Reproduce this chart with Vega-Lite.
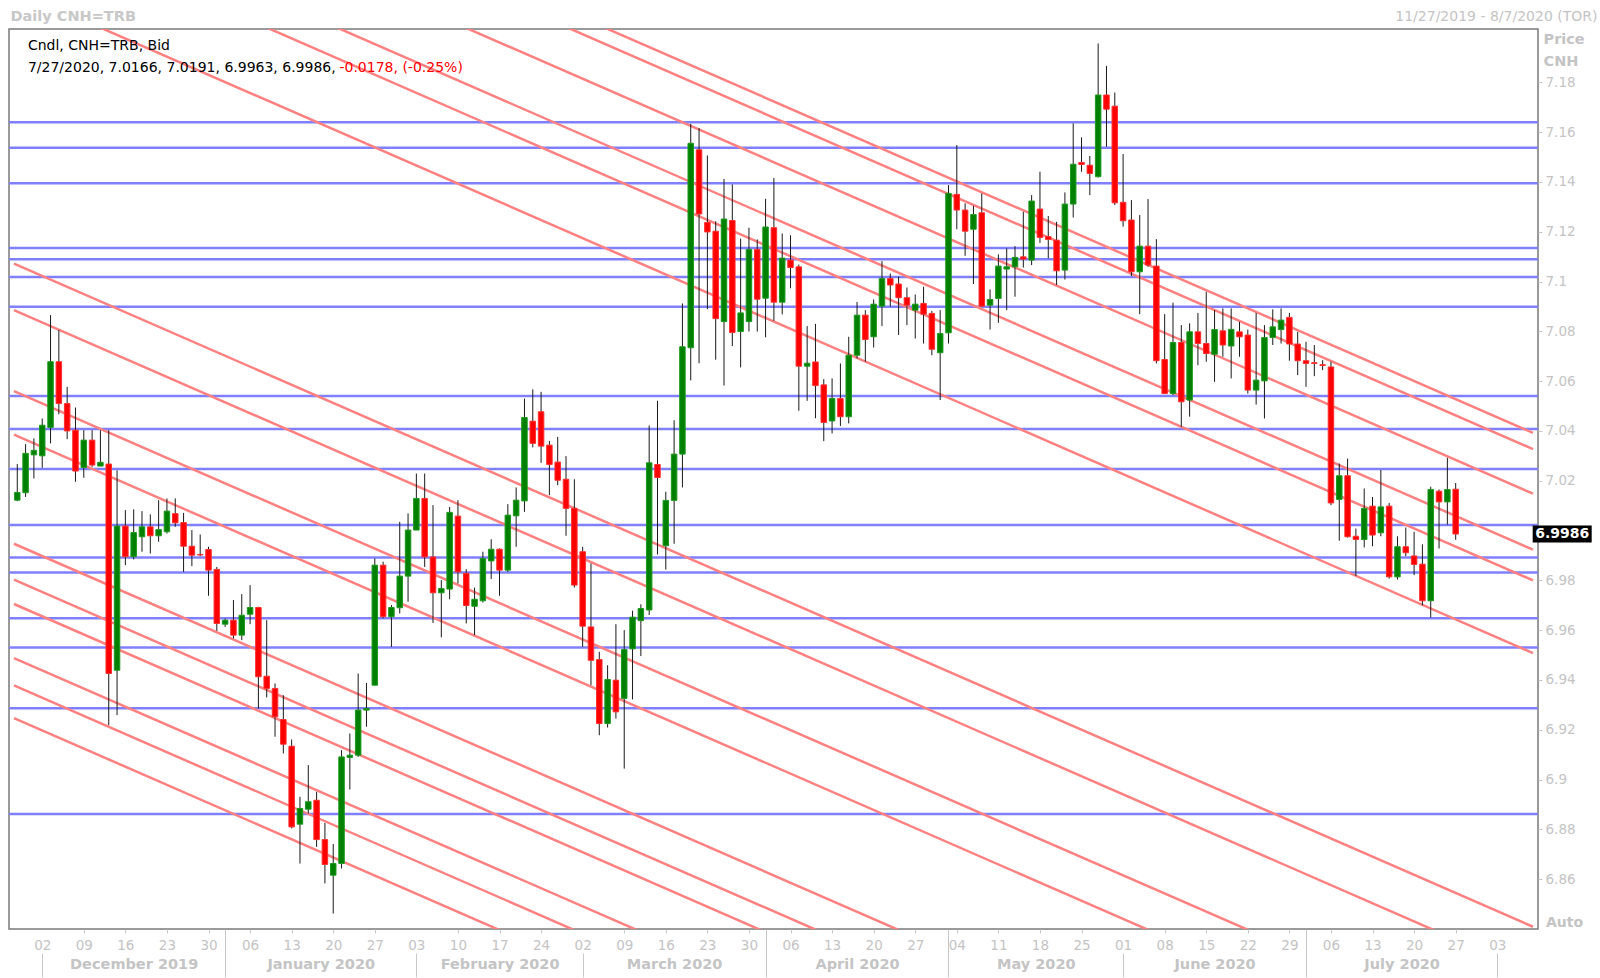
{
  "$schema": "https://vega.github.io/schema/vega-lite/v6.json",
  "width": 1529,
  "height": 900,
  "autosize": {"type": "none"},
  "padding": {"left": 9, "top": 29, "right": 62, "bottom": 49},
  "background": "white",
  "config": {
    "view": {"stroke": "#7a7a7a", "strokeWidth": 1.5},
    "font": "DejaVu Sans"
  },
  "datasets": {
    "ohlc": [
      {"i":0,"d":"2019-11-27","o":7.0122,"h":7.0267,"l":7.0118,"c":7.0153},
      {"i":1,"d":"2019-11-28","o":7.0152,"h":7.0347,"l":7.0135,"c":7.0310},
      {"i":2,"d":"2019-11-29","o":7.0304,"h":7.0370,"l":7.0209,"c":7.0322},
      {"i":3,"d":"2019-12-02","o":7.0300,"h":7.0450,"l":7.0252,"c":7.0423},
      {"i":4,"d":"2019-12-03","o":7.0414,"h":7.0865,"l":7.0350,"c":7.0678},
      {"i":5,"d":"2019-12-04","o":7.0678,"h":7.0805,"l":7.0467,"c":7.0510},
      {"i":6,"d":"2019-12-05","o":7.0510,"h":7.0577,"l":7.0367,"c":7.0400},
      {"i":7,"d":"2019-12-06","o":7.0403,"h":7.0494,"l":7.0196,"c":7.0239},
      {"i":8,"d":"2019-12-09","o":7.0253,"h":7.0403,"l":7.0212,"c":7.0363},
      {"i":9,"d":"2019-12-10","o":7.0363,"h":7.0403,"l":7.0256,"c":7.0263},
      {"i":10,"d":"2019-12-11","o":7.0259,"h":7.0403,"l":7.0259,"c":7.0274},
      {"i":11,"d":"2019-12-12","o":7.0267,"h":7.0403,"l":6.9218,"c":6.9426},
      {"i":12,"d":"2019-12-13","o":6.9439,"h":7.0242,"l":6.9259,"c":7.0018},
      {"i":13,"d":"2019-12-16","o":7.0018,"h":7.0082,"l":6.9861,"c":6.9895},
      {"i":14,"d":"2019-12-17","o":6.9895,"h":7.0085,"l":6.9884,"c":6.9992},
      {"i":15,"d":"2019-12-18","o":6.9975,"h":7.0078,"l":6.9915,"c":7.0015},
      {"i":16,"d":"2019-12-19","o":7.0015,"h":7.0065,"l":6.9908,"c":6.9979},
      {"i":17,"d":"2019-12-20","o":6.9979,"h":7.0122,"l":6.9955,"c":7.0004},
      {"i":18,"d":"2019-12-23","o":6.9995,"h":7.0129,"l":6.9988,"c":7.0078},
      {"i":19,"d":"2019-12-24","o":7.0068,"h":7.0129,"l":7.0015,"c":7.0031},
      {"i":20,"d":"2019-12-25","o":7.0032,"h":7.0071,"l":6.9834,"c":6.9937},
      {"i":21,"d":"2019-12-26","o":6.9937,"h":7.0002,"l":6.9857,"c":6.9901},
      {"i":22,"d":"2019-12-27","o":6.9904,"h":6.9984,"l":6.9897,"c":6.9902},
      {"i":23,"d":"2019-12-30","o":6.9924,"h":6.9935,"l":6.9738,"c":6.9841},
      {"i":24,"d":"2019-12-31","o":6.9844,"h":6.9854,"l":6.9597,"c":6.9627},
      {"i":25,"d":"2020-01-01","o":6.9624,"h":6.9647,"l":6.9613,"c":6.9640},
      {"i":26,"d":"2020-01-02","o":6.9640,"h":6.9721,"l":6.9567,"c":6.9580},
      {"i":27,"d":"2020-01-03","o":6.9580,"h":6.9745,"l":6.9560,"c":6.9660},
      {"i":28,"d":"2020-01-06","o":6.9664,"h":6.9781,"l":6.9624,"c":6.9691},
      {"i":29,"d":"2020-01-07","o":6.9691,"h":6.9694,"l":6.9285,"c":6.9413},
      {"i":30,"d":"2020-01-08","o":6.9415,"h":6.9640,"l":6.9330,"c":6.9366},
      {"i":31,"d":"2020-01-09","o":6.9366,"h":6.9386,"l":6.9172,"c":6.9252},
      {"i":32,"d":"2020-01-10","o":6.9241,"h":6.9339,"l":6.9105,"c":6.9142},
      {"i":33,"d":"2020-01-13","o":6.9134,"h":6.9161,"l":6.8804,"c":6.8810},
      {"i":34,"d":"2020-01-14","o":6.8821,"h":6.8931,"l":6.8663,"c":6.8884},
      {"i":35,"d":"2020-01-15","o":6.8881,"h":6.9058,"l":6.8864,"c":6.8911},
      {"i":36,"d":"2020-01-16","o":6.8917,"h":6.8951,"l":6.8730,"c":6.8759},
      {"i":37,"d":"2020-01-17","o":6.8759,"h":6.8826,"l":6.8583,"c":6.8659},
      {"i":38,"d":"2020-01-20","o":6.8616,"h":6.8741,"l":6.8462,"c":6.8663},
      {"i":39,"d":"2020-01-21","o":6.8663,"h":6.9118,"l":6.8643,"c":6.9091},
      {"i":40,"d":"2020-01-22","o":6.9089,"h":6.9185,"l":6.8960,"c":6.9098},
      {"i":41,"d":"2020-01-23","o":6.9098,"h":6.9426,"l":6.9091,"c":6.9279},
      {"i":42,"d":"2020-01-24","o":6.9279,"h":6.9388,"l":6.9212,"c":6.9285},
      {"i":43,"d":"2020-01-27","o":6.9379,"h":6.9888,"l":6.9379,"c":6.9861},
      {"i":44,"d":"2020-01-28","o":6.9861,"h":6.9875,"l":6.9647,"c":6.9654},
      {"i":45,"d":"2020-01-29","o":6.9654,"h":6.9701,"l":6.9533,"c":6.9691},
      {"i":46,"d":"2020-01-30","o":6.9690,"h":7.0035,"l":6.9667,"c":6.9817},
      {"i":47,"d":"2020-01-31","o":6.9817,"h":7.0069,"l":6.9714,"c":7.0002},
      {"i":48,"d":"2020-02-03","o":7.0002,"h":7.0229,"l":7.0002,"c":7.0129},
      {"i":49,"d":"2020-02-04","o":7.0129,"h":7.0229,"l":6.9854,"c":6.9894},
      {"i":50,"d":"2020-02-05","o":6.9894,"h":7.0102,"l":6.9629,"c":6.9750},
      {"i":51,"d":"2020-02-06","o":6.9750,"h":6.9801,"l":6.9571,"c":6.9767},
      {"i":52,"d":"2020-02-07","o":6.9765,"h":7.0095,"l":6.9724,"c":7.0073},
      {"i":53,"d":"2020-02-10","o":7.0058,"h":7.0122,"l":6.9787,"c":6.9834},
      {"i":54,"d":"2020-02-11","o":6.9828,"h":6.9845,"l":6.9627,"c":6.9699},
      {"i":55,"d":"2020-02-12","o":6.9696,"h":6.9771,"l":6.9580,"c":6.9724},
      {"i":56,"d":"2020-02-13","o":6.9718,"h":6.9915,"l":6.9711,"c":6.9888},
      {"i":57,"d":"2020-02-14","o":6.9878,"h":6.9965,"l":6.9805,"c":6.9925},
      {"i":58,"d":"2020-02-17","o":6.9925,"h":6.9928,"l":6.9738,"c":6.9841},
      {"i":59,"d":"2020-02-18","o":6.9841,"h":7.0106,"l":6.9834,"c":7.0062},
      {"i":60,"d":"2020-02-19","o":7.0059,"h":7.0173,"l":6.9935,"c":7.0122},
      {"i":61,"d":"2020-02-20","o":7.0119,"h":7.0530,"l":7.0075,"c":7.0454},
      {"i":62,"d":"2020-02-21","o":7.0439,"h":7.0567,"l":7.0334,"c":7.0350},
      {"i":63,"d":"2020-02-24","o":7.0477,"h":7.0557,"l":7.0272,"c":7.0339},
      {"i":64,"d":"2020-02-25","o":7.0343,"h":7.0360,"l":7.0142,"c":7.0265},
      {"i":65,"d":"2020-02-26","o":7.0275,"h":7.0376,"l":7.0182,"c":7.0202},
      {"i":66,"d":"2020-02-27","o":7.0206,"h":7.0299,"l":6.9979,"c":7.0089},
      {"i":67,"d":"2020-02-28","o":7.0089,"h":7.0206,"l":6.9771,"c":6.9781},
      {"i":68,"d":"2020-03-02","o":6.9915,"h":6.9935,"l":6.9533,"c":6.9616},
      {"i":69,"d":"2020-03-03","o":6.9613,"h":6.9868,"l":6.9379,"c":6.9479},
      {"i":70,"d":"2020-03-04","o":6.9482,"h":6.9513,"l":6.9178,"c":6.9225},
      {"i":71,"d":"2020-03-05","o":6.9225,"h":6.9459,"l":6.9209,"c":6.9402},
      {"i":72,"d":"2020-03-06","o":6.9399,"h":6.9624,"l":6.9245,"c":6.9272},
      {"i":73,"d":"2020-03-09","o":6.9326,"h":6.9600,"l":6.9044,"c":6.9522},
      {"i":74,"d":"2020-03-10","o":6.9525,"h":6.9678,"l":6.9322,"c":6.9652},
      {"i":75,"d":"2020-03-11","o":6.9638,"h":6.9704,"l":6.9496,"c":6.9687},
      {"i":76,"d":"2020-03-12","o":6.9681,"h":7.0422,"l":6.9661,"c":7.0272},
      {"i":77,"d":"2020-03-13","o":7.0265,"h":7.0521,"l":6.9904,"c":7.0213},
      {"i":78,"d":"2020-03-16","o":6.9939,"h":7.0156,"l":6.9843,"c":7.0121},
      {"i":79,"d":"2020-03-17","o":7.0121,"h":7.0443,"l":6.9947,"c":7.0307},
      {"i":80,"d":"2020-03-18","o":7.0307,"h":7.0912,"l":7.0173,"c":7.0738},
      {"i":81,"d":"2020-03-19","o":7.0734,"h":7.1633,"l":7.0603,"c":7.1555},
      {"i":82,"d":"2020-03-20","o":7.1529,"h":7.1616,"l":7.0672,"c":7.1271},
      {"i":83,"d":"2020-03-23","o":7.1237,"h":7.1506,"l":7.0889,"c":7.1199},
      {"i":84,"d":"2020-03-24","o":7.1202,"h":7.1242,"l":7.0686,"c":7.0851},
      {"i":85,"d":"2020-03-25","o":7.0839,"h":7.1412,"l":7.0582,"c":7.1251},
      {"i":86,"d":"2020-03-26","o":7.1245,"h":7.1390,"l":7.0741,"c":7.0795},
      {"i":87,"d":"2020-03-27","o":7.0799,"h":7.1172,"l":7.0655,"c":7.0874},
      {"i":88,"d":"2020-03-30","o":7.0839,"h":7.1216,"l":7.0799,"c":7.1129},
      {"i":89,"d":"2020-03-31","o":7.1129,"h":7.1169,"l":7.0799,"c":7.0929},
      {"i":90,"d":"2020-04-01","o":7.0933,"h":7.1332,"l":7.0776,"c":7.1219},
      {"i":91,"d":"2020-04-02","o":7.1216,"h":7.1416,"l":7.0842,"c":7.0917},
      {"i":92,"d":"2020-04-03","o":7.0917,"h":7.1193,"l":7.0868,"c":7.1094},
      {"i":93,"d":"2020-04-06","o":7.1086,"h":7.1186,"l":7.0973,"c":7.1056},
      {"i":94,"d":"2020-04-07","o":7.1059,"h":7.1068,"l":7.0481,"c":7.0660},
      {"i":95,"d":"2020-04-08","o":7.0660,"h":7.0821,"l":7.0521,"c":7.0672},
      {"i":96,"d":"2020-04-09","o":7.0677,"h":7.0830,"l":7.0451,"c":7.0582},
      {"i":97,"d":"2020-04-10","o":7.0585,"h":7.0608,"l":7.0359,"c":7.0434},
      {"i":98,"d":"2020-04-13","o":7.0440,"h":7.0611,"l":7.0390,"c":7.0530},
      {"i":99,"d":"2020-04-14","o":7.0530,"h":7.0671,"l":7.0420,"c":7.0457},
      {"i":100,"d":"2020-04-15","o":7.0457,"h":7.0778,"l":7.0430,"c":7.0704},
      {"i":101,"d":"2020-04-16","o":7.0704,"h":7.0918,"l":7.0691,"c":7.0865},
      {"i":102,"d":"2020-04-17","o":7.0865,"h":7.0885,"l":7.0678,"c":7.0767},
      {"i":103,"d":"2020-04-20","o":7.0778,"h":7.0928,"l":7.0735,"c":7.0909},
      {"i":104,"d":"2020-04-21","o":7.0901,"h":7.1082,"l":7.0821,"c":7.1012},
      {"i":105,"d":"2020-04-22","o":7.1012,"h":7.1032,"l":7.0899,"c":7.0986},
      {"i":106,"d":"2020-04-23","o":7.0990,"h":7.1019,"l":7.0785,"c":7.0935},
      {"i":107,"d":"2020-04-24","o":7.0935,"h":7.0976,"l":7.0825,"c":7.0905},
      {"i":108,"d":"2020-04-27","o":7.0885,"h":7.0948,"l":7.0771,"c":7.0909},
      {"i":109,"d":"2020-04-28","o":7.0912,"h":7.0979,"l":7.0751,"c":7.0869},
      {"i":110,"d":"2020-04-29","o":7.0872,"h":7.0882,"l":7.0704,"c":7.0728},
      {"i":111,"d":"2020-04-30","o":7.0714,"h":7.0885,"l":7.0524,"c":7.0791},
      {"i":112,"d":"2020-05-01","o":7.0794,"h":7.1387,"l":7.0751,"c":7.1354},
      {"i":113,"d":"2020-05-04","o":7.1350,"h":7.1548,"l":7.1210,"c":7.1287},
      {"i":114,"d":"2020-05-05","o":7.1287,"h":7.1314,"l":7.1103,"c":7.1202},
      {"i":115,"d":"2020-05-06","o":7.1210,"h":7.1304,"l":7.0990,"c":7.1269},
      {"i":116,"d":"2020-05-07","o":7.1276,"h":7.1354,"l":7.0899,"c":7.0901},
      {"i":117,"d":"2020-05-08","o":7.0905,"h":7.0968,"l":7.0807,"c":7.0928},
      {"i":118,"d":"2020-05-11","o":7.0932,"h":7.1109,"l":7.0834,"c":7.1062},
      {"i":119,"d":"2020-05-12","o":7.1050,"h":7.1133,"l":7.0885,"c":7.1059},
      {"i":120,"d":"2020-05-13","o":7.1059,"h":7.1142,"l":7.0939,"c":7.1097},
      {"i":121,"d":"2020-05-14","o":7.1099,"h":7.1280,"l":7.1056,"c":7.1090},
      {"i":122,"d":"2020-05-15","o":7.1086,"h":7.1347,"l":7.1066,"c":7.1323},
      {"i":123,"d":"2020-05-18","o":7.1291,"h":7.1441,"l":7.1155,"c":7.1177},
      {"i":124,"d":"2020-05-19","o":7.1180,"h":7.1263,"l":7.1093,"c":7.1169},
      {"i":125,"d":"2020-05-20","o":7.1166,"h":7.1240,"l":7.0986,"c":7.1043},
      {"i":126,"d":"2020-05-21","o":7.1046,"h":7.1358,"l":7.1008,"c":7.1311},
      {"i":127,"d":"2020-05-22","o":7.1311,"h":7.1635,"l":7.1257,"c":7.1471},
      {"i":128,"d":"2020-05-25","o":7.1478,"h":7.1579,"l":7.1441,"c":7.1470},
      {"i":129,"d":"2020-05-26","o":7.1467,"h":7.1504,"l":7.1347,"c":7.1434},
      {"i":130,"d":"2020-05-27","o":7.1421,"h":7.1956,"l":7.1418,"c":7.1749},
      {"i":131,"d":"2020-05-28","o":7.1749,"h":7.1866,"l":7.1541,"c":7.1692},
      {"i":132,"d":"2020-05-29","o":7.1704,"h":7.1759,"l":7.1307,"c":7.1316},
      {"i":133,"d":"2020-06-01","o":7.1318,"h":7.1512,"l":7.1220,"c":7.1244},
      {"i":134,"d":"2020-06-02","o":7.1247,"h":7.1327,"l":7.1022,"c":7.1039},
      {"i":135,"d":"2020-06-03","o":7.1039,"h":7.1267,"l":7.0869,"c":7.1142},
      {"i":136,"d":"2020-06-04","o":7.1142,"h":7.1331,"l":7.1059,"c":7.1066},
      {"i":137,"d":"2020-06-05","o":7.1062,"h":7.1170,"l":7.0671,"c":7.0682},
      {"i":138,"d":"2020-06-08","o":7.0687,"h":7.0869,"l":7.0548,"c":7.0550},
      {"i":139,"d":"2020-06-09","o":7.0550,"h":7.0915,"l":7.0544,"c":7.0755},
      {"i":140,"d":"2020-06-10","o":7.0755,"h":7.0825,"l":7.0417,"c":7.0517},
      {"i":141,"d":"2020-06-11","o":7.0524,"h":7.0832,"l":7.0457,"c":7.0798},
      {"i":142,"d":"2020-06-12","o":7.0798,"h":7.0874,"l":7.0664,"c":7.0751},
      {"i":143,"d":"2020-06-15","o":7.0751,"h":7.0959,"l":7.0678,"c":7.0711},
      {"i":144,"d":"2020-06-16","o":7.0708,"h":7.0885,"l":7.0597,"c":7.0807},
      {"i":145,"d":"2020-06-17","o":7.0802,"h":7.0892,"l":7.0698,"c":7.0745},
      {"i":146,"d":"2020-06-18","o":7.0741,"h":7.0892,"l":7.0611,"c":7.0808},
      {"i":147,"d":"2020-06-19","o":7.0798,"h":7.0838,"l":7.0698,"c":7.0778},
      {"i":148,"d":"2020-06-22","o":7.0785,"h":7.0807,"l":7.0550,"c":7.0564},
      {"i":149,"d":"2020-06-23","o":7.0564,"h":7.0874,"l":7.0506,"c":7.0604},
      {"i":150,"d":"2020-06-24","o":7.0601,"h":7.0825,"l":7.0450,"c":7.0775},
      {"i":151,"d":"2020-06-25","o":7.0775,"h":7.0888,"l":7.0745,"c":7.0818},
      {"i":152,"d":"2020-06-26","o":7.0807,"h":7.0892,"l":7.0751,"c":7.0845},
      {"i":153,"d":"2020-06-29","o":7.0856,"h":7.0874,"l":7.0682,"c":7.0749},
      {"i":154,"d":"2020-06-30","o":7.0749,"h":7.0798,"l":7.0624,"c":7.0682},
      {"i":155,"d":"2020-07-01","o":7.0682,"h":7.0758,"l":7.0577,"c":7.0671},
      {"i":156,"d":"2020-07-02","o":7.0674,"h":7.0745,"l":7.0620,"c":7.0671},
      {"i":157,"d":"2020-07-03","o":7.0666,"h":7.0684,"l":7.0644,"c":7.0663},
      {"i":158,"d":"2020-07-06","o":7.0657,"h":7.0678,"l":7.0102,"c":7.0111},
      {"i":159,"d":"2020-07-07","o":7.0125,"h":7.0269,"l":6.9959,"c":7.0220},
      {"i":160,"d":"2020-07-08","o":7.0220,"h":7.0289,"l":6.9972,"c":6.9975},
      {"i":161,"d":"2020-07-09","o":6.9977,"h":7.0008,"l":6.9817,"c":6.9964},
      {"i":162,"d":"2020-07-10","o":6.9964,"h":7.0169,"l":6.9932,"c":7.0089},
      {"i":163,"d":"2020-07-13","o":7.0098,"h":7.0135,"l":6.9937,"c":6.9982},
      {"i":164,"d":"2020-07-14","o":6.9991,"h":7.0243,"l":6.9977,"c":7.0095},
      {"i":165,"d":"2020-07-15","o":7.0098,"h":7.0111,"l":6.9807,"c":6.9814},
      {"i":166,"d":"2020-07-16","o":6.9814,"h":6.9977,"l":6.9803,"c":6.9935},
      {"i":167,"d":"2020-07-17","o":6.9935,"h":7.0012,"l":6.9897,"c":6.9911},
      {"i":168,"d":"2020-07-20","o":6.9898,"h":6.9995,"l":6.9821,"c":6.9864},
      {"i":169,"d":"2020-07-21","o":6.9865,"h":6.9945,"l":6.9700,"c":6.9718},
      {"i":170,"d":"2020-07-22","o":6.9718,"h":7.0176,"l":6.9651,"c":7.0165},
      {"i":171,"d":"2020-07-23","o":7.0158,"h":7.0165,"l":6.9928,"c":7.0115},
      {"i":172,"d":"2020-07-24","o":7.0115,"h":7.0292,"l":7.0024,"c":7.0165},
      {"i":173,"d":"2020-07-27","o":7.0166,"h":7.0191,"l":6.9963,"c":6.9986}
    ],
    "levels": [
      {"p":7.1640},{"p":7.1537},{"p":7.1395},{"p":7.1135},{"p":7.1089},{"p":7.1018},
      {"p":7.0899},{"p":7.0540},{"p":7.0408},{"p":7.0247},{"p":7.0022},{"p":6.9892},
      {"p":6.9832},{"p":6.9648},{"p":6.9530},{"p":6.9286},{"p":6.8862}
    ],
    "channels": [
      {"k":1,"i":-0.4,"p":7.3055},{"k":1,"i":182.3,"p":7.0392},
      {"k":2,"i":-0.4,"p":7.2990},{"k":2,"i":182.3,"p":7.0327},
      {"k":3,"i":-0.4,"p":7.2811},{"k":3,"i":182.3,"p":7.0148},
      {"k":4,"i":-0.4,"p":7.2586},{"k":4,"i":182.3,"p":6.9923},
      {"k":5,"i":-0.4,"p":7.2463},{"k":5,"i":182.3,"p":6.9800},
      {"k":6,"i":-0.4,"p":7.2171},{"k":6,"i":182.3,"p":6.9508},
      {"k":7,"i":-0.4,"p":7.1072},{"k":7,"i":182.3,"p":6.8409},
      {"k":8,"i":-0.4,"p":7.0885},{"k":8,"i":182.3,"p":6.8222},
      {"k":9,"i":-0.4,"p":7.0560},{"k":9,"i":182.3,"p":6.7897},
      {"k":10,"i":-0.4,"p":7.0385},{"k":10,"i":182.3,"p":6.7722},
      {"k":11,"i":-0.4,"p":6.9947},{"k":11,"i":182.3,"p":6.7284},
      {"k":12,"i":-0.4,"p":6.9803},{"k":12,"i":182.3,"p":6.7140},
      {"k":13,"i":-0.4,"p":6.9705},{"k":13,"i":182.3,"p":6.7042},
      {"k":14,"i":-0.4,"p":6.9488},{"k":14,"i":182.3,"p":6.6825},
      {"k":15,"i":-0.4,"p":6.9378},{"k":15,"i":182.3,"p":6.6715},
      {"k":16,"i":-0.4,"p":6.9247},{"k":16,"i":182.3,"p":6.6584}
    ]
  },
  "data": {"name": "ohlc"},
  "resolve": {"axis": {"x": "independent", "y": "independent"}},
  "layer": [
    {
      "data": {"name": "levels"},
      "mark": {"type": "rule", "color": "#8080ff", "strokeWidth": 2.5},
      "encoding": {
        "y": {"field": "p", "type": "quantitative", "axis": null,
              "scale": {"domain": [6.84, 7.2014], "nice": false, "zero": false}}
      }
    },
    {
      "data": {"name": "channels"},
      "mark": {"type": "line", "color": "#ff8080", "strokeWidth": 2.5, "clip": true},
      "encoding": {
        "x": {"field": "i", "type": "quantitative",
              "scale": {"domain": [-0.394, 182.3], "nice": false, "zero": false},
              "axis": {"orient": "top", "labels": false, "ticks": false, "domain": false, "grid": false,
                       "title": "Auto", "titleX": 1555, "titleY": 897, "titleAlign": "center",
                       "titleBaseline": "alphabetic", "titleColor": "#c4c4c4", "titleFontWeight": "bold",
                       "titleFontSize": 14, "titleFont": "DejaVu Sans"}},
        "y": {"field": "p", "type": "quantitative", "axis": null},
        "detail": {"field": "k", "type": "nominal"}
      }
    },
    {
      "mark": {"type": "rule", "color": "#1a1a1a", "strokeWidth": 1},
      "encoding": {
        "x": {"field": "i", "type": "quantitative",
              "axis": {
                "orient": "bottom",
                "values": [3, 8, 13, 14, 18, 23, 25, 28, 33, 36.5, 38, 43, 48, 53, 58, 58.01, 63, 68, 73, 78, 79, 83, 88, 90, 93, 98, 101, 103, 108, 112, 113, 118, 122.5, 123, 128, 133, 138, 143, 144, 148, 153, 155, 158, 163, 166.5, 168, 173, 178],
                "labelExpr": "datum.value == 14 ? ['', 'December 2019'] : datum.value == 36.5 ? ['', 'January 2020'] : datum.value == 58.01 ? ['', 'February 2020'] : datum.value == 79 ? ['', 'March 2020'] : datum.value == 101 ? ['', 'April 2020'] : datum.value == 122.5 ? ['', 'May 2020'] : datum.value == 144 ? ['', 'June 2020'] : datum.value == 166.5 ? ['', 'July 2020'] : ((datum.value - 3) % 5 != 0 ? '' : utcFormat(utc(2019, 11, 2 + 7 * (datum.value - 3) / 5), '%d'))",
                "labelOverlap": false,
                "labelFlush": false,
                "labelBound": false,
                "labelColor": "#c4c4c4",
                "labelFont": "DejaVu Sans",
                "labelFontSize": {"condition": {"test": "indexof([14,36.5,58.01,79,101,122.5,144,166.5], datum.value) >= 0", "value": 14.5}, "value": 13.5},
                "labelFontWeight": {"condition": {"test": "indexof([14,36.5,58.01,79,101,122.5,144,166.5], datum.value) >= 0", "value": "bold"}, "value": "normal"},
                "labelBaseline": "top",
                "labelAlign": "center",
                "labelLineHeight": 19,
                "labelPadding": {"condition": {"test": "indexof([3,25,48,68,90,112,133,155,178], datum.value) >= 0", "value": -39}, "value": 5},
                "tickColor": "#c8c8c8",
                "tickWidth": 1,
                "tickSize": {"condition": {"test": "indexof([3,25,48,68,90,112,133,155,178], datum.value) >= 0", "value": 48}, "value": 4},
                "tickOpacity": {"condition": {"test": "indexof([14,36.5,58.01,79,101,122.5,144,166.5], datum.value) >= 0", "value": 0}, "value": 1},
                "tickDash": {"condition": {"test": "indexof([3,48,68,133,178], datum.value) >= 0", "value": [0, 24, 30]}, "value": []},
                "domain": false,
                "grid": false,
                "title": "11/27/2019 - 8/7/2020 (TOR)",
                "titleX": 1588,
                "titleY": -909,
                "titleAlign": "right",
                "titleBaseline": "alphabetic",
                "titleColor": "#c4c4c4",
                "titleFontWeight": "normal",
                "titleFontSize": 14,
                "titleFont": "DejaVu Sans"
              }},
        "y": {"field": "l", "type": "quantitative",
              "axis": {
                "orient": "right",
                "values": [6.86, 6.88, 6.9, 6.92, 6.94, 6.96, 6.98, 7.02, 7.04, 7.06, 7.08, 7.1, 7.12, 7.14, 7.16, 7.18],
                "format": ".3~g",
                "labelColor": "#c4c4c4",
                "labelFont": "DejaVu Sans",
                "labelFontSize": 13.5,
                "labelPadding": 3,
                "tickColor": "#c8c8c8",
                "tickSize": 4,
                "domain": false,
                "grid": false,
                "title": ["Price", "CNH"],
                "titleAngle": 0,
                "titleX": 5,
                "titleY": 14,
                "titleAlign": "left",
                "titleBaseline": "alphabetic",
                "titleColor": "#c4c4c4",
                "titleFontWeight": "bold",
                "titleFontSize": 14.5,
                "titleLineHeight": 22,
                "titleFont": "DejaVu Sans"
              }},
        "y2": {"field": "h"}
      }
    },
    {
      "mark": {"type": "bar", "width": 5.5, "strokeWidth": 1},
      "encoding": {
        "x": {"field": "i", "type": "quantitative", "axis": null},
        "y": {"field": "o", "type": "quantitative",
              "axis": {"orient": "left", "labels": false, "ticks": false, "domain": false, "grid": false,
                       "title": "Daily CNH=TRB", "titleAngle": 0, "titleX": 1, "titleY": -9,
                       "titleAlign": "left", "titleBaseline": "alphabetic", "titleColor": "#c8c8c8",
                       "titleFontWeight": "bold", "titleFontSize": 14.5, "titleFont": "DejaVu Sans"}},
        "y2": {"field": "c"},
        "color": {"condition": {"test": "datum.c >= datum.o", "value": "#008000"}, "value": "#ff0000"},
        "stroke": {"condition": {"test": "datum.c >= datum.o", "value": "#1e9a1e"}, "value": "#ff3030"}
      }
    },
    {
      "data": {"values": [{}]},
      "mark": {"type": "text", "text": "Cndl, CNH=TRB, Bid", "align": "left", "baseline": "middle",
               "font": "DejaVu Sans", "fontSize": 14, "color": "#000000"},
      "encoding": {
        "x": {"datum": 1.28, "type": "quantitative", "axis": null},
        "y": {"datum": 7.1945, "type": "quantitative", "axis": null}
      }
    },
    {
      "data": {"values": [{}]},
      "mark": {"type": "text", "text": "7/27/2020, 7.0166, 7.0191, 6.9963, 6.9986,", "align": "left", "baseline": "middle",
               "font": "DejaVu Sans", "fontSize": 14, "color": "#000000"},
      "encoding": {
        "x": {"datum": 1.28, "type": "quantitative", "axis": null},
        "y": {"datum": 7.1859, "type": "quantitative", "axis": null}
      }
    },
    {
      "data": {"values": [{}]},
      "mark": {"type": "text", "text": "-0.0178, (-0.25%)", "align": "left", "baseline": "middle",
               "font": "DejaVu Sans", "fontSize": 14, "color": "#ff0000"},
      "encoding": {
        "x": {"datum": 38.75, "type": "quantitative", "axis": null},
        "y": {"datum": 7.1859, "type": "quantitative", "axis": null}
      }
    },
    {
      "transform": [{"filter": "datum.i == 173"}],
      "mark": {"type": "point", "shape": "M-1,-0.288H1V0.288H-1Z", "size": 3481, "filled": true,
               "color": "#000000", "opacity": 1, "strokeWidth": 0},
      "encoding": {
        "x": {"datum": 185.81, "type": "quantitative", "axis": null},
        "y": {"field": "c", "type": "quantitative", "axis": null}
      }
    },
    {
      "transform": [{"filter": "datum.i == 173"}],
      "mark": {"type": "text", "align": "center", "baseline": "middle", "font": "DejaVu Sans",
               "fontSize": 14, "fontWeight": "bold", "color": "#ffffff"},
      "encoding": {
        "x": {"datum": 185.81, "type": "quantitative", "axis": null},
        "y": {"field": "c", "type": "quantitative", "axis": null},
        "text": {"field": "c", "type": "quantitative", "format": ".4f"}
      }
    }
  ]
}
